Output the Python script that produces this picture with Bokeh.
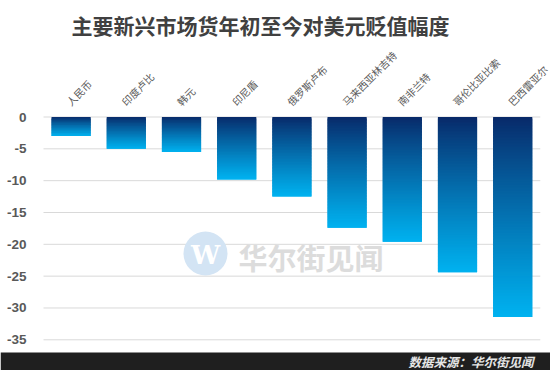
import numpy as np
from bokeh.plotting import figure
from bokeh.models import Range1d, ColumnDataSource
from bokeh.core.properties import value
from bokeh.embed import file_html
from bokeh.resources import INLINE

# ---- data ----
title_text = "主要新兴市场货年初至今对美元贬值幅度"
categories = ["人民币", "印度卢比", "韩元", "印尼盾", "俄罗斯卢布",
              "马来西亚林吉特", "南非兰特", "哥伦比亚比索", "巴西雷亚尔"]
values = [-3.0, -5.0, -5.5, -9.8, -12.5, -17.4, -19.6, -24.4, -31.4]
y_ticks = [0, -5, -10, -15, -20, -25, -30, -35]
y_tick_labels = ["0", "-5", "-10", "-15", "-20", "-25", "-30", "-35"]
source_text = "数据来源：华尔街见闻"
watermark_text = "华尔街见闻"

# ---- layout / style ----
W, H = 550, 370
PX_X = 55.2          # px per category
PX_Y = 6.366         # px per unit
FRAME_LEFT = 43      # px where category -0.5 sits
ZERO_Y = 116.5       # px where value 0 sits
x_start = -0.5 - FRAME_LEFT / PX_X
x_end = x_start + W / PX_X
y_end = ZERO_Y / PX_Y
y_start = y_end - H / PX_Y


def to_x(px):
    return x_start + px / PX_X


def to_y(py):
    return y_end - py / PX_Y


CJK = value("Noto Sans CJK SC")
TOP_C = np.array([8, 40, 104])
BOT_C = np.array([0, 178, 240])

p = figure(width=W, height=H, output_backend="svg", toolbar_location=None,
           x_range=Range1d(x_start, x_end), y_range=Range1d(y_start, y_end),
           x_axis_location=None, y_axis_location=None, min_border=0,
           background_fill_color="white", border_fill_color="white")
p.outline_line_color = None
p.xgrid.visible = False
p.ygrid.visible = False

n = len(categories)
xs = np.arange(n)

# gridlines
p.segment(x0=[-0.5] * len(y_ticks), x1=[n - 0.5] * len(y_ticks), y0=y_ticks, y1=y_ticks,
          line_color="#d9d9d9", line_width=1)

# watermark
p.scatter(x=[to_x(205)], y=[to_y(253)], size=44, marker="circle",
          fill_color="#d3e4f4", line_color=None)
p.text(x=[to_x(205)], y=[to_y(254)], text=["W"], text_font=value("DejaVu Serif"),
       text_font_style="bold", text_font_size="26px", text_color="white",
       text_align="center", text_baseline="middle")
p.text(x=[to_x(238)], y=[to_y(256)], text=[watermark_text], text_font=CJK,
       text_font_style="bold", text_font_size="29px", text_color="#dcdcdc",
       text_align="left", text_baseline="middle")

# gradient bars (sliced)
bw = 0.71
L, R, T, B, C = [], [], [], [], []
for xi, v in zip(xs, values):
    N = max(6, int(abs(v) * PX_Y / 1.5))
    for k in range(N):
        t = ((k + 0.5) / N) ** 0.88
        col = TOP_C + (BOT_C - TOP_C) * t
        L.append(xi - bw / 2)
        R.append(xi + bw / 2)
        T.append(v * k / N)
        B.append(max(v, v * (k + 2) / N))
        C.append("#%02x%02x%02x" % tuple(int(round(c)) for c in col))
p.quad(source=ColumnDataSource(dict(left=L, right=R, top=T, bottom=B, color=C)),
       left="left", right="right", top="top", bottom="bottom",
       fill_color="color", line_color=None)

# category labels (rotated)
p.text(x=xs, y=[to_y(103)] * n, text=categories, angle=np.pi / 4,
       text_font=CJK, text_font_size="10.2px", text_color="#595959",
       text_align="left", text_baseline="middle", x_offset=-3)

# y tick labels
p.text(x=[to_x(26)] * len(y_ticks), y=y_ticks, text=y_tick_labels,
       text_font=value("Liberation Sans"), text_font_style="bold",
       text_font_size="13.5px", text_color="#595959",
       text_align="right", text_baseline="middle")

# title
p.text(x=[to_x(260)], y=[to_y(24)], text=[title_text], text_font=CJK,
       text_font_style="bold", text_font_size="21px", text_color="#404040",
       text_align="center", text_baseline="middle")

# footer
p.quad(left=[x_start], right=[x_end], top=[to_y(352)], bottom=[y_start],
       fill_color="#1f1f1f", line_color=None)
p.text(x=[to_x(533)], y=[to_y(361)], text=[source_text], text_font=CJK,
       text_font_style="bold italic", text_font_size="12.5px", text_color="#e6e6e6",
       text_align="right", text_baseline="middle")

open("out.html", "w").write(file_html(p, INLINE))
